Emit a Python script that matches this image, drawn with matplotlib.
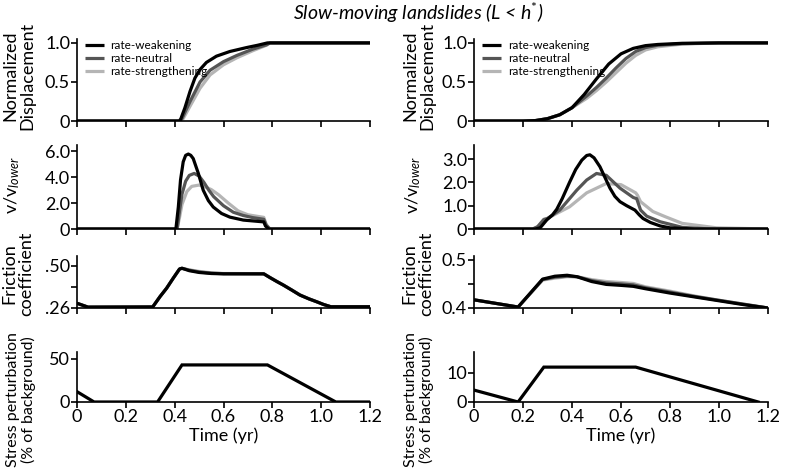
import numpy as np
import matplotlib
matplotlib.use("Agg")
from matplotlib import pyplot as plt

plt.rcParams['font.family'] = ['Lato', 'DejaVu Sans']
plt.rcParams['mathtext.fontset'] = 'custom'
plt.rcParams['mathtext.rm'] = 'Lato'
plt.rcParams['mathtext.it'] = 'Lato:italic'

series_names = ["rate-weakening", "rate-neutral", "rate-strengthening"]
series_colors = ["#000000", "#555555", "#b5b5b5"]

x_ticks = [0, 0.2, 0.4, 0.6, 0.8, 1.0, 1.2]
x_tick_labels = ["0", "0.2", "0.4", "0.6", "0.8", "1.0", "1.2"]

# ---- left column: displacement ----
disp_L_t_w = [0, 0.41, 0.422, 0.442, 0.463, 0.483, 0.504, 0.53, 0.571, 0.626, 0.694, 0.74, 0.78, 1.2]
disp_L_w = [0, 0, 0.0, 0.17, 0.38, 0.55, 0.66, 0.75, 0.83, 0.89, 0.94, 0.97, 1.0, 1.0]
disp_L_t_n = [0, 0.415, 0.43, 0.463, 0.504, 0.545, 0.6, 0.655, 0.72, 0.776, 0.79, 1.2]
disp_L_n = [0, 0, 0.03, 0.25, 0.50, 0.65, 0.76, 0.84, 0.92, 0.975, 1.0, 1.0]
disp_L_t_s = [0, 0.42, 0.435, 0.463, 0.504, 0.545, 0.6, 0.655, 0.72, 0.776, 0.79, 1.2]
disp_L_s = [0, 0, 0.03, 0.19, 0.42, 0.59, 0.72, 0.81, 0.90, 0.97, 1.0, 1.0]

# ---- left column: velocity ----
vel_L_t_w = [0, 0.405, 0.415, 0.424, 0.435, 0.445, 0.456, 0.466, 0.476, 0.497, 0.517, 0.538,
             0.558, 0.592, 0.626, 0.681, 0.765, 0.772, 0.786, 1.2]
vel_L_w = [0, 0, 1.7, 3.8, 5.2, 5.7, 5.8, 5.7, 5.45, 4.3, 3.0, 2.2, 1.7, 1.2, 0.92, 0.69, 0.55, 0.23, 0, 0]
vel_L_t_n = [0, 0.41, 0.42, 0.43, 0.445, 0.46, 0.48, 0.50, 0.52, 0.54, 0.56, 0.6, 0.64, 0.68, 0.72,
             0.765, 0.775, 0.79, 1.2]
vel_L_n = [0, 0, 1.4, 2.7, 3.7, 4.15, 4.3, 4.1, 3.6, 3.0, 2.5, 1.8, 1.3, 1.05, 0.88, 0.75, 0.3, 0, 0]
vel_L_t_s = [0, 0.41, 0.42, 0.43, 0.45, 0.47, 0.50, 0.52, 0.55, 0.58, 0.62, 0.66, 0.70, 0.765,
             0.775, 0.79, 1.2]
vel_L_s = [0, 0, 0.9, 1.9, 2.9, 3.3, 3.4, 3.3, 3.05, 2.65, 2.0, 1.4, 1.1, 0.9, 0.35, 0, 0]

# ---- left column: friction ----
fric_L_t = [0, 0.045, 0.31, 0.34, 0.367, 0.394, 0.42, 0.43, 0.46, 0.50, 0.55, 0.60, 0.765,
            0.79, 0.82, 0.845, 0.88, 0.913, 0.95, 0.981, 1.01, 1.04, 1.2]
fric_L_w = [0.287, 0.265, 0.266, 0.325, 0.373, 0.43, 0.483, 0.487, 0.473, 0.463, 0.457, 0.455,
            0.455, 0.434, 0.41, 0.391, 0.362, 0.334, 0.312, 0.296, 0.28, 0.267, 0.267]
fric_L_n = [0.287, 0.265, 0.266, 0.325, 0.373, 0.43, 0.483, 0.487, 0.476, 0.466, 0.459, 0.456,
            0.455, 0.434, 0.41, 0.391, 0.362, 0.334, 0.312, 0.296, 0.28, 0.267, 0.267]
fric_L_s = [0.287, 0.265, 0.266, 0.325, 0.373, 0.43, 0.481, 0.486, 0.478, 0.469, 0.461, 0.457,
            0.456, 0.435, 0.411, 0.392, 0.363, 0.335, 0.313, 0.296, 0.28, 0.267, 0.267]

# ---- left column: stress perturbation ----
stress_L_t = [0, 0.07, 0.33, 0.43, 0.78, 1.06, 1.2]
stress_L = [12, 0, 0, 43, 43, 0, 0]

# ---- right column: displacement ----
disp_R_t_w = [0, 0.2, 0.25, 0.3, 0.35, 0.4, 0.45, 0.5, 0.55, 0.6, 0.65, 0.7, 0.75, 0.85, 1.0, 1.2]
disp_R_w = [0, 0, 0.005, 0.03, 0.08, 0.17, 0.34, 0.54, 0.73, 0.86, 0.93, 0.965, 0.98, 0.995, 1.0, 1.0]
disp_R_t_n = [0, 0.2, 0.25, 0.3, 0.35, 0.4, 0.42, 0.46, 0.5, 0.54, 0.58, 0.62, 0.66, 0.7, 0.75,
              0.85, 1.0, 1.2]
disp_R_n = [0, 0, 0.005, 0.03, 0.08, 0.17, 0.22, 0.32, 0.43, 0.55, 0.68, 0.80, 0.89, 0.94, 0.97,
            0.99, 1.0, 1.0]
disp_R_t_s = [0, 0.2, 0.25, 0.3, 0.35, 0.4, 0.42, 0.46, 0.5, 0.54, 0.58, 0.62, 0.66, 0.7, 0.75,
              0.85, 0.95, 1.05, 1.2]
disp_R_s = [0, 0, 0.005, 0.03, 0.08, 0.17, 0.21, 0.29, 0.39, 0.50, 0.62, 0.74, 0.84, 0.91, 0.95,
            0.985, 0.995, 1.0, 1.0]

# ---- right column: velocity ----
vel_R_t_w = [0, 0.25, 0.27, 0.297, 0.32, 0.338, 0.36, 0.39, 0.415, 0.44, 0.46, 0.473, 0.49, 0.514,
             0.535, 0.555, 0.575, 0.596, 0.623, 0.657, 0.675, 0.69, 0.72, 0.76, 0.80, 0.9, 1.2]
vel_R_w = [0, 0, 0.05, 0.39, 0.6, 0.85, 1.3, 2.0, 2.55, 2.95, 3.15, 3.18, 3.05, 2.67, 2.2, 1.75,
           1.4, 1.17, 1.0, 0.81, 0.6, 0.45, 0.28, 0.13, 0.05, 0, 0]
vel_R_t_n = [0, 0.24, 0.26, 0.285, 0.30, 0.35, 0.42, 0.46, 0.50, 0.54, 0.596, 0.65, 0.664, 0.68,
             0.705, 0.76, 0.85, 0.95, 1.2]
vel_R_n = [0, 0, 0.1, 0.4, 0.45, 0.81, 1.67, 2.1, 2.38, 2.3, 1.75, 1.35, 1.3, 0.81, 0.55, 0.31,
           0.07, 0.01, 0]
vel_R_t_s = [0, 0.24, 0.26, 0.285, 0.30, 0.39, 0.46, 0.54, 0.60, 0.66, 0.667, 0.68, 0.73, 0.78,
             0.85, 0.99, 1.2]
vel_R_s = [0, 0, 0.1, 0.42, 0.46, 0.95, 1.55, 1.95, 1.9, 1.55, 1.45, 1.17, 0.75, 0.53, 0.24,
           0.05, 0]

# ---- right column: friction ----
fric_R_t = [0, 0.18, 0.28, 0.33, 0.38, 0.42, 0.48, 0.54, 0.60, 0.65, 0.70, 0.80, 0.90, 1.0, 1.1, 1.2]
fric_R_w = [0.417, 0.402, 0.46, 0.466, 0.468, 0.465, 0.455, 0.449, 0.447, 0.445, 0.44, 0.431,
            0.423, 0.415, 0.407, 0.400]
fric_R_n = [0.417, 0.402, 0.459, 0.464, 0.466, 0.465, 0.457, 0.452, 0.450, 0.448, 0.442, 0.433,
            0.424, 0.416, 0.408, 0.400]
fric_R_s = [0.417, 0.402, 0.458, 0.462, 0.465, 0.465, 0.459, 0.455, 0.453, 0.451, 0.444, 0.435,
            0.425, 0.416, 0.408, 0.400]

# ---- right column: stress perturbation ----
stress_R_t = [0, 0.18, 0.285, 0.66, 1.16]
stress_R = [4.1, 0, 12, 12, 0]

panels = {
    "left": [
        [(disp_L_t_w, disp_L_w), (disp_L_t_n, disp_L_n), (disp_L_t_s, disp_L_s)],
        [(vel_L_t_w, vel_L_w), (vel_L_t_n, vel_L_n), (vel_L_t_s, vel_L_s)],
        [(fric_L_t, fric_L_w), (fric_L_t, fric_L_n), (fric_L_t, fric_L_s)],
        [(stress_L_t, stress_L)],
    ],
    "right": [
        [(disp_R_t_w, disp_R_w), (disp_R_t_n, disp_R_n), (disp_R_t_s, disp_R_s)],
        [(vel_R_t_w, vel_R_w), (vel_R_t_n, vel_R_n), (vel_R_t_s, vel_R_s)],
        [(fric_R_t, fric_R_w), (fric_R_t, fric_R_n), (fric_R_t, fric_R_s)],
        [(stress_R_t, stress_R)],
    ],
}

y_setup = {
    "left": [
        ((0, 1.05), [0, 0.5, 1.0], ["0", "0.5", "1.0"]),
        ((0, 6.5), [0, 2, 4, 6], ["0", "2.0", "4.0", "6.0"]),
        ((0.26, 0.557), [0.26, 0.38, 0.50], [".26", "", ".50"]),
        ((0, 58), [0, 50], ["0", "50"]),
    ],
    "right": [
        ((0, 1.05), [0, 0.5, 1.0], ["0", "0.5", "1.0"]),
        ((0, 3.6), [0, 1, 2, 3], ["0", "1.0", "2.0", "3.0"]),
        ((0.4, 0.508), [0.4, 0.45, 0.5], ["0.4", "", "0.5"]),
        ((0, 17.2), [0, 10], ["0", "10"]),
    ],
}

y_labels = ["Normalized\nDisplacement", r"v/v$_{\mathit{lower}}$",
            "Friction\ncoefficient", "Stress perturbation\n(% of background)"]
label_sizes = [13, 13, 13, 11.5]

W, H = 805, 475
fig = plt.figure(figsize=(W / 100, H / 100), dpi=100)

# pixel boxes (top, bottom) of each row
rows_px = [(39, 121), (145, 229), (256, 308), (352, 402)]
cols_px = {"left": (77, 370), "right": (474, 768)}
label_x_px = {"left": [19, 12, 18, 21], "right": [419, 413, 418, 419]}
label_y_px = [76, 185, 274, 400]

for col in ["left", "right"]:
    x0, x1 = cols_px[col]
    for r, (top, bot) in enumerate(rows_px):
        ax = fig.add_axes([x0 / W, 1 - bot / H, (x1 - x0) / W, (bot - top) / H])
        lines = panels[col][r]
        if len(lines) == 3:
            handles = []
            for k in [2, 1, 0]:
                t, y = lines[k]
                h, = ax.plot(t, y, color=series_colors[k], lw=2.3, label=series_names[k],
                             solid_capstyle='butt', solid_joinstyle='round', zorder=3 - k)
                handles.append(h)
            if r == 0:
                ax.legend(handles[::-1], series_names, loc="upper left", frameon=False,
                          fontsize=8.5, handlelength=1.6, handletextpad=0.6, labelspacing=0.15,
                          borderaxespad=0.0, bbox_to_anchor=(0.01, 1.04))
        else:
            t, y = lines[0]
            ax.plot(t, y, color="black", lw=2.3, solid_joinstyle='miter')

        ylim, yt, ytl = y_setup[col][r]
        ax.set_xlim(0, 1.2)
        ax.set_ylim(*ylim)
        ax.set_yticks(yt)
        ax.set_yticklabels(ytl)
        ax.set_xticks(x_ticks)
        if r == 3:
            ax.set_xticklabels(x_tick_labels)
            ax.set_xlabel("Time (yr)", fontsize=13, labelpad=2)
        else:
            ax.set_xticklabels([])
        for s in ["top", "right"]:
            ax.spines[s].set_visible(False)
        for s in ["left", "bottom"]:
            ax.spines[s].set_linewidth(1.2)
        ax.tick_params(direction="out", length=4, width=1.2, labelsize=13, pad=1)
        ax.patch.set_alpha(0)

        fig.text(label_x_px[col][r] / W, 1 - label_y_px[r] / H, y_labels[r],
                 rotation=90, ha="center", va="center", fontsize=label_sizes[r], linespacing=1.1)

fig.text(418 / W, 1 - 13 / H, r"Slow-moving landslides (L < h$^{*}$)", ha="center", va="center",
         fontsize=14, style="italic")

fig.savefig("out.png", dpi=100)
